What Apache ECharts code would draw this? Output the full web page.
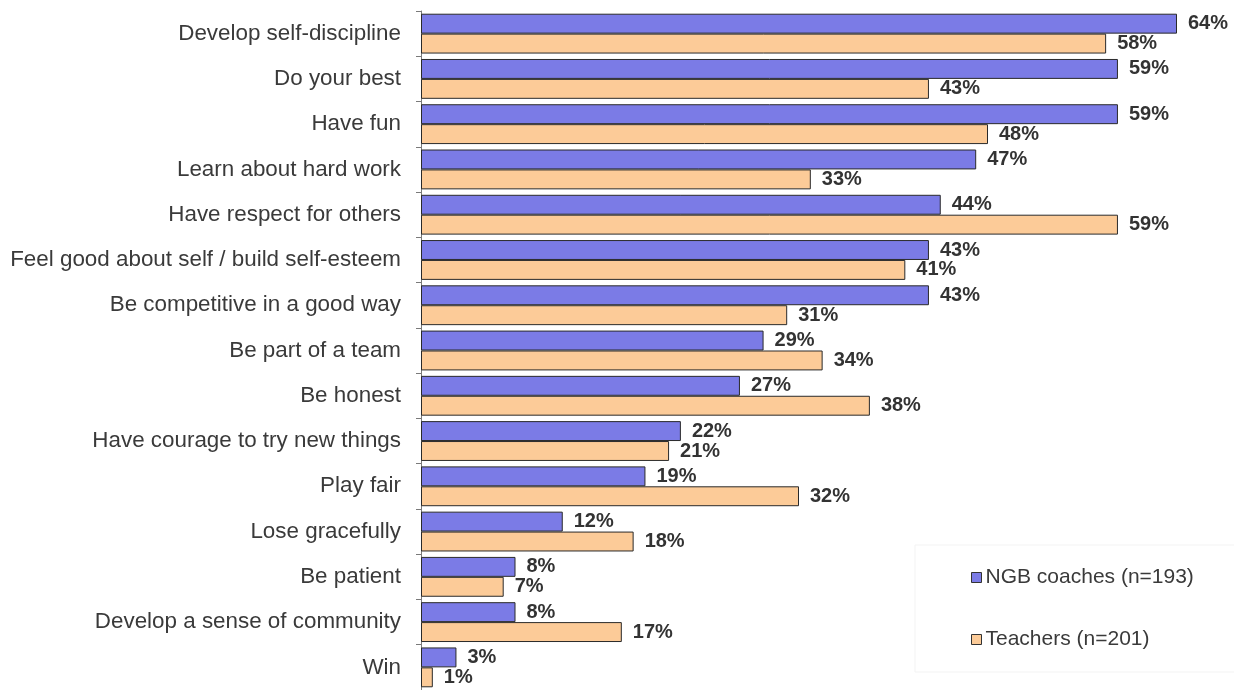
<!DOCTYPE html>
<html>
<head>
<meta charset="utf-8">
<script src="https://cdn.jsdelivr.net/npm/echarts@6/dist/echarts.min.js"></script>
<style>
html,body{margin:0;padding:0;background:#fff;}
#chart{width:1234px;height:690px;}
</style>
</head>
<body>
<div id="chart"></div>
<script>
const categories = [
  "Develop self-discipline",
  "Do your best",
  "Have fun",
  "Learn about hard work",
  "Have respect for others",
  "Feel good about self / build self-esteem",
  "Be competitive in a good way",
  "Be part of a team",
  "Be honest",
  "Have courage to try new things",
  "Play fair",
  "Lose gracefully",
  "Be patient",
  "Develop a sense of community",
  "Win"
];
const coaches = [64, 59, 59, 47, 44, 43, 43, 29, 27, 22, 19, 12, 8, 8, 3];
const teachers = [58, 43, 48, 33, 59, 41, 31, 34, 38, 21, 32, 18, 7, 17, 1];
const seriesNames = ["NGB coaches (n=193)", "Teachers (n=201)"];

const chart = echarts.init(document.getElementById('chart'), null, {renderer: 'canvas'});
const labelCfg = {
  show: true,
  position: 'right',
  distance: 11,
  formatter: '{c}%',
  fontFamily: 'Liberation Sans, Arial, sans-serif',
  fontWeight: 'bold',
  fontSize: 20,
  color: '#333333'
};
chart.setOption({
  animation: false,
  backgroundColor: '#ffffff',
  grid: {left: 421, top: 11, right: 57, height: 682, containLabel: false},
  legend: {
    orient: 'vertical',
    left: 915,
    top: 545,
    itemGap: 41,
    itemWidth: 10,
    itemHeight: 10,
    icon: 'rect',
    textStyle: {fontFamily: 'Liberation Sans, Arial, sans-serif', fontSize: 21, color: '#3a3a3a', padding: [0, 0, 0, -1]},
    itemStyle: {borderColor: '#333', borderWidth: 1},
    borderColor: '#f3f3f3',
    borderWidth: 1,
    padding: [22, 50, 22, 56],
    data: seriesNames
  },
  xAxis: {
    type: 'value',
    min: 0,
    max: 64,
    show: false
  },
  yAxis: {
    type: 'category',
    inverse: true,
    data: categories,
    axisLine: {show: true, lineStyle: {color: '#7a7a7a', width: 1}},
    axisTick: {show: true, length: 5, lineStyle: {color: '#7a7a7a'}},
    axisLabel: {
      margin: 20,
      fontFamily: 'Liberation Sans, Arial, sans-serif',
      fontSize: 22.4,
      color: '#3a3a3a'
    },
    splitLine: {show: false}
  },
  series: [
    {
      name: seriesNames[0],
      type: 'bar',
      data: coaches,
      barGap: '0%',
      barCategoryGap: '12%',
      itemStyle: {color: '#7b7be6', borderColor: '#2a2a2a', borderWidth: 1},
      label: labelCfg
    },
    {
      name: seriesNames[1],
      type: 'bar',
      data: teachers,
      barGap: '0%',
      barCategoryGap: '12%',
      itemStyle: {color: '#fccb98', borderColor: '#2a2a2a', borderWidth: 1},
      label: labelCfg
    }
  ]
});
</script>
</body>
</html>
